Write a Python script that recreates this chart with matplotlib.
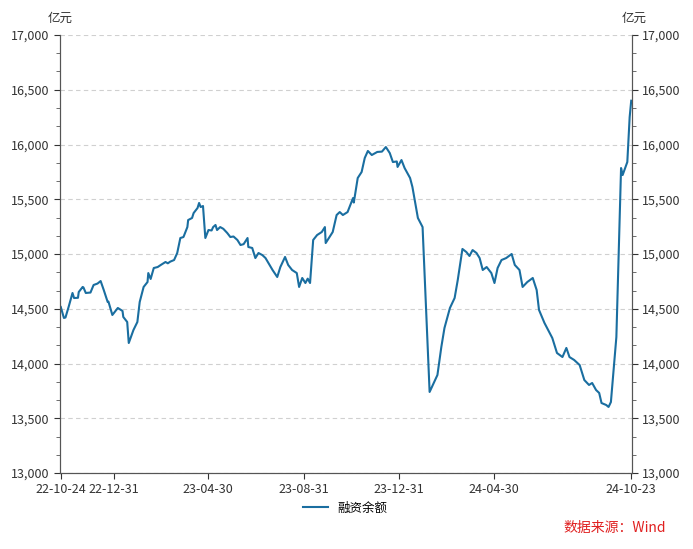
import matplotlib
matplotlib.use("Agg")
import matplotlib.pyplot as plt
import matplotlib.dates as mdates
from matplotlib.ticker import AutoMinorLocator, FuncFormatter
import pandas as pd

plt.rcParams['font.family'] = ['Noto Sans CJK SC', 'DejaVu Sans']

start = "2022-10-24"
day_offsets = [0,4,6,10,15,17,22,23,28,29,32,38,42,47,51,55,60,61,66,73,77,79,80,85,87,93,98,101,106,111,112,115,119,124,128,134,137,140,145,149,153,157,162,163,168,170,175,177,179,182,185,189,193,195,198,200,204,208,213,217,221,226,230,234,239,240,245,249,253,258,262,265,271,277,281,287,291,296,302,305,309,313,316,319,323,328,334,338,339,348,353,357,361,367,374,375,380,385,389,393,398,405,411,416,421,425,430,431,436,440,447,450,457,463,472,482,487,491,498,504,508,514,519,523,527,532,536,540,545,551,555,559,564,570,577,581,587,591,597,604,609,612,619,625,629,635,642,647,651,657,664,670,676,680,685,689,692,698,701,704,711,717,719,725,728,730]
balance = [14516,14416,14420,14516,14644,14598,14600,14653,14699,14695,14644,14648,14717,14730,14753,14671,14562,14565,14443,14507,14489,14480,14425,14379,14187,14306,14379,14562,14699,14744,14826,14772,14872,14881,14900,14927,14915,14930,14945,15009,15146,15155,15246,15310,15329,15374,15420,15466,15429,15438,15146,15219,15215,15246,15265,15219,15246,15230,15192,15155,15160,15128,15082,15090,15146,15064,15055,14963,15009,14990,14963,14927,14854,14790,14881,14973,14900,14854,14826,14699,14781,14735,14775,14735,15128,15173,15201,15246,15100,15201,15356,15383,15356,15383,15511,15470,15694,15749,15877,15941,15904,15932,15935,15977,15922,15840,15845,15795,15858,15785,15694,15612,15329,15246,13740,13895,14151,14324,14507,14598,14762,15046,15018,14982,15036,15009,14963,14854,14881,14826,14735,14872,14945,14963,15000,14900,14854,14699,14744,14781,14671,14489,14370,14288,14233,14096,14059,14142,14059,14032,13986,13849,13804,13822,13758,13731,13639,13621,13603,13648,14242,15785,15721,15840,16250,16400]
tick_labels = ["22-10-24","22-12-31","23-04-30","23-08-31","23-12-31","24-04-30","24-10-23"]
y_ticks = [13000,13500,14000,14500,15000,15500,16000,16500,17000]

dates = pd.Timestamp(start) + pd.to_timedelta(day_offsets, unit="D")
tick_dates = [pd.Timestamp("20" + t) for t in tick_labels]

fig = plt.figure(figsize=(6.93, 5.49), dpi=100)
ax = fig.add_axes([60/693, 1-473/549, 572/693, 438/549])
line, = ax.plot(dates, balance, color="#1a6ea0", lw=1.5, label="融资余额")
ax.set_xlim(dates[0] - pd.Timedelta(days=1), dates[-1] + pd.Timedelta(days=1))
ax.set_ylim(13000, 17000)
ax.set_yticks(y_ticks)
fmt = FuncFormatter(lambda v, p: f"{int(v):,}")
ax.yaxis.set_major_formatter(fmt)
ax.yaxis.set_minor_locator(AutoMinorLocator(3))
ax.set_xticks(tick_dates)
ax.set_xticklabels(tick_labels)
ax.grid(axis="y", ls=(0, (4, 3)), color="#d0d0d0", lw=0.8)
for s in ["top"]:
    ax.spines[s].set_visible(False)
for s in ["left", "right", "bottom"]:
    ax.spines[s].set_color("#555555")
ax.tick_params(axis="both", labelsize=9, colors="#333333", length=4)
ax.tick_params(axis="y", which="minor", length=3, color="#555555")
ax2 = ax.twinx()
ax2.set_ylim(13000, 17000)
ax2.set_yticks(y_ticks)
ax2.yaxis.set_major_formatter(fmt)
ax2.yaxis.set_minor_locator(AutoMinorLocator(3))
ax2.spines["top"].set_visible(False)
for s in ["left", "right", "bottom"]:
    ax2.spines[s].set_color("#555555")
ax2.tick_params(axis="y", labelsize=9, colors="#333333", length=4)
ax2.tick_params(axis="y", which="minor", length=3, color="#555555")

fig.text(48/693, 1-18/549, "亿元", fontsize=9, color="#333333", va="center")
fig.text(622/693, 1-18/549, "亿元", fontsize=9, color="#333333", va="center")
fig.legend(handles=[line], loc="center", bbox_to_anchor=(345/693, 1-508/549), frameon=False, fontsize=9, handlelength=2)
fig.text(615/693, 1-528/549, "数据来源：Wind", fontsize=10, color="#e02020", ha="center", va="center")
fig.savefig("out.png", dpi=100)
